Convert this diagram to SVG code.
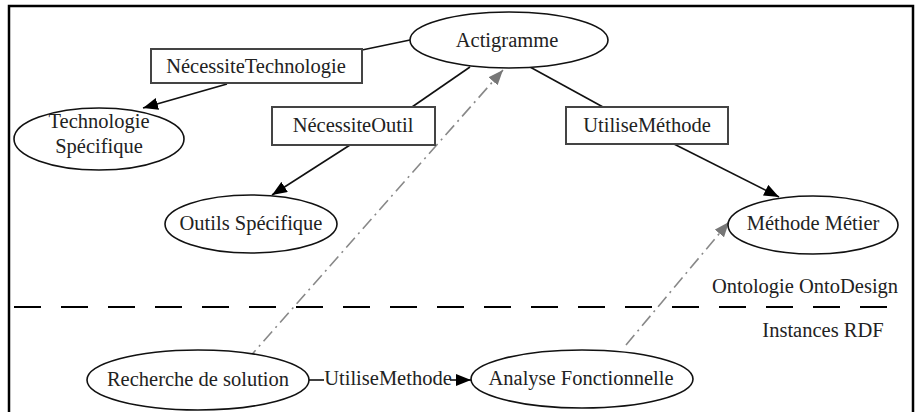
<svg xmlns="http://www.w3.org/2000/svg" width="916" height="412" viewBox="0 0 916 412">
<style>
text{font-family:"Liberation Serif","Times New Roman",serif;font-size:20.5px;fill:#222;text-anchor:middle}
.el{fill:#fff;stroke:#111;stroke-width:1.6}
.bx{fill:#fff;stroke:#444;stroke-width:2}
.ln{stroke:#111;stroke-width:1.6;fill:none}
.ar{stroke:#111;stroke-width:1.6;fill:none;marker-end:url(#ab)}
.dd{stroke:#888;stroke-width:1.6;fill:none;stroke-dasharray:13 5 2 5;marker-end:url(#ag)}
</style>
<defs>
<marker id="ab" markerUnits="userSpaceOnUse" markerWidth="16" markerHeight="12" refX="15" refY="6" orient="auto"><path d="M0,0 L15,6 L0,12 Z" fill="#000"/></marker>
<marker id="ag" markerUnits="userSpaceOnUse" markerWidth="16" markerHeight="12" refX="15" refY="6" orient="auto"><path d="M0,0 L15,6 L0,12 Z" fill="#777"/></marker>
</defs>
<rect width="916" height="412" fill="#fff"/>
<path d="M9,412 V6 H913 V412" fill="none" stroke="#000" stroke-width="2.5"/>
<line x1="14" y1="307" x2="890" y2="307" stroke="#000" stroke-width="2" stroke-dasharray="27 20"/>
<g id="connectors">
<line class="ln" x1="362" y1="50" x2="410" y2="40"/>
<line class="ar" x1="227" y1="84" x2="143" y2="108"/>
<line class="ln" x1="412" y1="107" x2="470" y2="67"/>
<line class="ar" x1="350" y1="145" x2="272" y2="195"/>
<line class="ln" x1="530" y1="67" x2="603" y2="107"/>
<line class="ar" x1="674" y1="144" x2="779" y2="197"/>
<line class="dd" x1="247" y1="360" x2="503" y2="70"/>
<line class="dd" x1="626" y1="345" x2="729" y2="222"/>
<line class="ln" x1="309" y1="380" x2="324" y2="380"/>
<line class="ar" x1="450" y1="380" x2="471" y2="380"/>
<text x="388" y="385">UtiliseMethode</text>
</g>
<g id="actigramme"><ellipse class="el" cx="509" cy="40" rx="99" ry="28"/><text x="507" y="47">Actigramme</text></g>
<g id="necessite-technologie"><rect class="bx" x="151" y="49" width="211" height="34"/><text x="256" y="73">NécessiteTechnologie</text></g>
<g id="technologie-specifique"><ellipse class="el" cx="99" cy="139" rx="85" ry="31"/><text x="99" y="128">Technologie</text><text x="99" y="153">Spécifique</text></g>
<g id="necessite-outil"><rect class="bx" x="272" y="107" width="163" height="38"/><text x="353" y="132">NécessiteOutil</text></g>
<g id="outils-specifique"><ellipse class="el" cx="251" cy="224" rx="86" ry="29"/><text x="251" y="230">Outils Spécifique</text></g>
<g id="utilise-methode"><rect class="bx" x="566" y="107" width="162" height="37"/><text x="647" y="132">UtiliseMéthode</text></g>
<g id="methode-metier"><ellipse class="el" cx="813" cy="225" rx="85" ry="29"/><text x="813" y="230">Méthode Métier</text></g>
<g id="recherche-solution"><ellipse class="el" cx="198" cy="380" rx="111" ry="30"/><text x="198" y="386">Recherche de solution</text></g>
<g id="analyse-fonctionnelle"><ellipse class="el" cx="582" cy="379" rx="111" ry="29"/><text x="581" y="385">Analyse Fonctionnelle</text></g>
<text x="805" y="293">Ontologie OntoDesign</text>
<text x="823" y="337">Instances RDF</text>
</svg>
